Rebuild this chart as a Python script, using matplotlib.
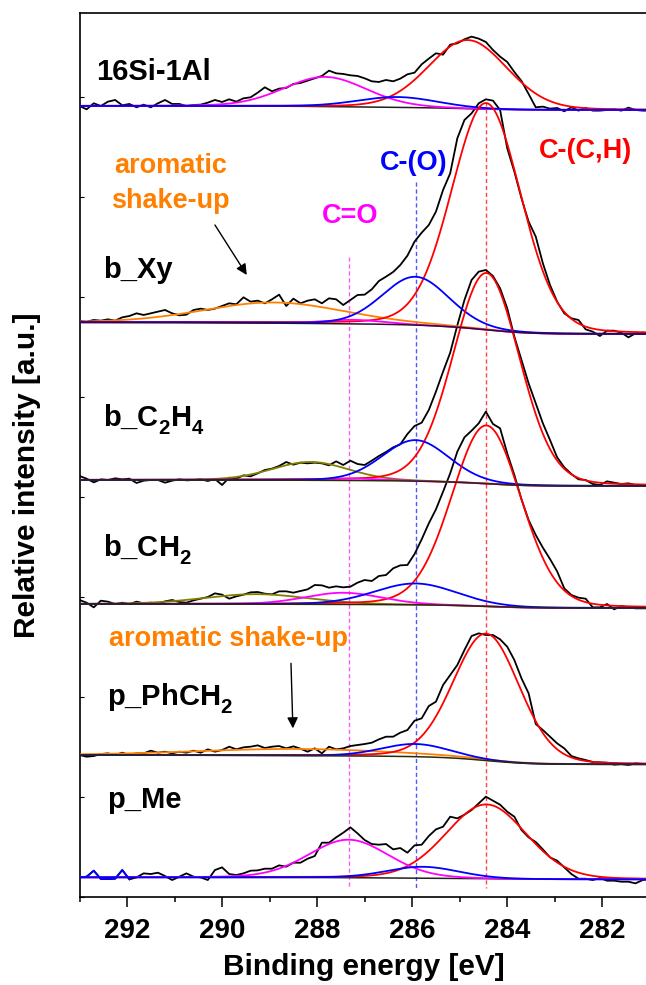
import numpy as np
import matplotlib
matplotlib.use("Agg")
import matplotlib.pyplot as plt
from matplotlib.ticker import MultipleLocator

plt.rcParams['font.family'] = ['Liberation Sans', 'DejaVu Sans']
plt.rcParams['font.weight'] = 'bold'
plt.rcParams['mathtext.fontset'] = 'custom'
plt.rcParams['mathtext.rm'] = 'Liberation Sans:bold'
plt.rcParams['mathtext.bf'] = 'Liberation Sans:bold'
plt.rcParams['mathtext.it'] = 'Liberation Sans:bold'
plt.rcParams['mathtext.default'] = 'bf'

# deeper subscripts for the chemical formulas
try:
    import matplotlib._mathtext as _mt
    _mt.FontConstantsBase.sub1 = 0.55
    _mt.FontConstantsBase.subdrop = 0.55
except Exception:
    pass

# ---------------------------------------------------------------- data
# C 1s scans: 81 channels, 293.0 eV down to 281.0 eV in 0.15 eV steps
E_START, E_STEP, N_CH = 293.0, 0.15, 81

samples = ["16Si-1Al", "b_Xy", "b_C$_2$H$_4$", "b_CH$_2$", "p_PhCH$_2$", "p_Me"]
# vertical stacking offset of each trace (a.u.) and background level at low BE
offsets = [2372, 1723, 1250, 878, 425, 58]
bg_right = [-12, -35, -18, -12, -28, -6]

counts_16si1al = [0, -10, 8, 0, 13, 18, 2, 6, -4, 4, -4, 8, 18, 6, 6, 0, 3, 4, 10, 18,
                  12, 20, 13, 23, 26, 40, 56, 44, 52, 54, 66, 69, 76, 83, 90, 106, 98, 96, 92, 90,
                  83, 74, 72, 78, 74, 82, 95, 100, 125, 142, 158, 154, 184, 188, 200, 208, 202, 192, 168, 148,
                  132, 102, 75, 36, -4, -2, -8, -6, -16, -4, -14, -6, -14, -14, -12, -10, -14, -5, -12, -14,
                  -14]
counts_bxy = [4, 2, 7, 5, 9, 5, 15, 19, 27, 22, 27, 32, 37, 27, 21, 23, 37, 41, 37, 41,
              49, 57, 54, 75, 62, 65, 57, 69, 83, 49, 71, 57, 65, 69, 57, 72, 69, 52, 67, 82,
              83, 99, 124, 137, 151, 172, 200, 242, 269, 292, 332, 397, 447, 552, 607, 627, 657, 669, 665, 637,
              522, 452, 372, 302, 257, 177, 112, 62, 27, 12, 7, -21, -28, -41, -25, -25, -31, -45, -33, -31,
              -33]
counts_bc2h4 = [12, 4, -7, 2, 0, 5, 2, 4, -9, -2, 0, 0, -8, -2, 2, -1, 0, 2, -3, 3,
                -15, 7, 4, 14, 11, 20, 30, 34, 42, 54, 46, 52, 50, 52, 50, 44, 56, 45, 58, 48,
                45, 58, 72, 84, 98, 107, 138, 162, 172, 210, 265, 325, 382, 464, 540, 600, 625, 630, 612, 575,
                515, 430, 360, 290, 230, 170, 120, 68, 38, 18, 2, 0, -12, -15, -4, -8, -12, -10, -15, -18,
                -18]
counts_bch2 = [12, 4, -10, 10, 7, 0, 4, 0, 7, 2, 4, 0, 8, 12, 6, 4, 11, 16, 21, 32,
               28, 16, 23, 28, 35, 36, 31, 29, 38, 38, 34, 39, 44, 57, 56, 49, 53, 50, 52, 64,
               72, 69, 84, 87, 107, 116, 117, 150, 194, 242, 284, 337, 392, 457, 500, 520, 542, 577, 540, 527,
               452, 387, 314, 252, 207, 169, 135, 98, 47, 27, 19, 16, -10, -10, 0, -16, -6, -10, -13, -13,
               -13]
counts_pphch2 = [0, -5, -3, 3, 5, 0, 7, 0, 5, 5, 13, 7, 10, 5, 10, 7, 13, 7, 17, 10,
                 15, 25, 17, 23, 25, 29, 21, 25, 27, 20, 26, 19, 10, 20, 5, 25, 17, 20, 27, 30,
                 33, 37, 47, 55, 55, 67, 75, 103, 110, 147, 160, 210, 240, 270, 315, 357, 365, 360, 360, 347,
                 325, 285, 230, 185, 93, 75, 55, 35, 20, -3, -10, -15, -21, -22, -23, -29, -27, -30, -25, -27,
                 -27]
counts_pme = [0, 2, 20, -5, -5, -4, 22, -6, 0, 12, 10, 14, 4, -8, 2, 12, 2, 0, -8, 22,
              30, 10, 7, 12, 20, 21, 26, 26, 36, 32, 44, 44, 56, 64, 104, 104, 120, 134, 150, 132,
              112, 100, 98, 100, 84, 88, 74, 96, 98, 124, 144, 152, 182, 177, 188, 202, 222, 242, 230, 218,
              197, 182, 142, 120, 106, 84, 60, 50, 30, 10, -4, -4, -8, -2, -10, -10, -13, -13, -18, -8,
              -6]
counts = [counts_16si1al, counts_bxy, counts_bc2h4, counts_bch2, counts_pphch2, counts_pme]

# fitted components: (centre eV, height a.u., FWHM eV)
peaks_16si1al = {"CC": (284.83, 206, 1.95), "CO": (286.31, 31, 2.00), "C=O": (287.83, 89, 2.05)}
peaks_bxy = {"CC": (284.44, 680, 1.72), "CO": (285.93, 145, 1.65), "C=O": (287.25, 12, 1.50),
             "shake": (288.90, 62, 3.50)}
peaks_bc2h4 = {"CC": (284.44, 632, 1.65), "CO": (285.93, 123, 1.65), "C=O": (287.30, 6, 1.50),
               "shake": (288.14, 55, 1.90)}
peaks_bch2 = {"CC": (284.44, 543, 1.72), "CO": (285.93, 64, 2.05), "C=O": (287.45, 35, 1.90),
              "shake": (289.28, 30, 2.60)}
peaks_pphch2 = {"CC": (284.44, 381, 1.64), "CO": (285.93, 38, 1.70), "shake": (288.40, 20, 5.00)}
peaks_pme = {"CC": (284.44, 223, 2.00), "CO": (285.78, 34, 1.80), "C=O": (287.34, 114, 1.98)}
peaks = [peaks_16si1al, peaks_bxy, peaks_bc2h4, peaks_bch2, peaks_pphch2, peaks_pme]

# reference binding energies marked with dashed lines
ref_lines = {"C=O": 287.33, "CO": 285.93, "CC": 284.44}

# ---------------------------------------------------------------- styles
RED, BLUE, MAGENTA, ORANGE, OLIVE = "#ff0000", "#0000ff", "#ff00ff", "#ff8000", "#808000"
shake_color = [None, ORANGE, OLIVE, OLIVE, ORANGE, None]
comp_color = {"CC": RED, "CO": BLUE, "C=O": MAGENTA}
bg_color = ["#202020", "#2a1030", "#2a2a08", "#2a2a08", "#2a2a08", "#202020"]
bg_on_top = [False, True, True, True, True, False]
LW = 1.3


def pseudo_voigt(x, c, h, fwhm, eta=0.12):
    s = fwhm / (2 * np.sqrt(2 * np.log(2)))
    g = np.exp(-(x - c) ** 2 / (2 * s ** 2))
    lor = 1.0 / (1.0 + ((x - c) / (fwhm / 2)) ** 2)
    return h * ((1 - eta) * g + eta * lor)


def shirley(x, total, left, right):
    # x runs from high to low binding energy
    area = np.concatenate([[0.0], np.cumsum(0.5 * (total[1:] + total[:-1]) * np.abs(np.diff(x)))])
    frac = (area[-1] - area) / area[-1]
    return right + (left - right) * frac


energy = E_START - E_STEP * np.arange(N_CH)
fine = np.linspace(293.3, 280.9, 700)

fig = plt.figure(figsize=(6.46, 9.85), dpi=100)
ax = fig.add_axes([79.5 / 646, 88.3 / 985, 1 - 79.5 / 646, (896.7 - 13.3) / 985])

for i, name in enumerate(samples):
    off = offsets[i]
    y = off + np.asarray(counts[i], float)
    ax.plot(energy, y, color="black", lw=LW, zorder=2)
    if i == 5:
        sel = energy >= 291.9
        ax.plot(energy[sel], y[sel], color=BLUE, lw=LW, zorder=4)

    comps = {k: pseudo_voigt(fine, *v) for k, v in peaks[i].items()}
    total = sum(comps.values())
    bg = shirley(fine, total, 0.0, bg_right[i])
    ax.plot(fine, off + bg, color=bg_color[i], lw=1.1, zorder=3.5 if bg_on_top[i] else 2.5)
    for k in ["shake", "CC", "C=O", "CO"]:
        if k not in comps:
            continue
        col = shake_color[i] if k == "shake" else comp_color[k]
        ax.plot(fine, off + bg + comps[k], color=col, lw=LW, zorder=3)

# dashed guide lines at the component binding energies
ax.plot([ref_lines["C=O"]] * 2, [1920, 25], color="#ff55ff", lw=1.0, ls=(0, (3, 2)), zorder=1)
ax.plot([ref_lines["CO"]] * 2, [2145, 25], color="#5555ff", lw=1.0, ls=(0, (3, 2)), zorder=1)
ax.plot([ref_lines["CC"]] * 2, [2384, 25], color="#ff4444", lw=1.0, ls=(0, (3, 2)), zorder=1)

# sample names
name_pos = [(292.66, 2450), (292.50, 1856), (292.50, 1412), (292.50, 1022), (292.43, 575), (292.41, 266)]
for name, (xe, yy) in zip(samples, name_pos):
    ax.text(xe, yy, name, fontsize=21, fontweight="bold", ha="left", va="baseline", color="black")

# component labels
ax.text(282.36, 2216, "C-(C,H)", color=RED, fontsize=19.5, fontweight="bold", ha="center", va="baseline")
ax.text(285.96, 2180, "C-(O)", color=BLUE, fontsize=19.5, fontweight="bold", ha="center", va="baseline")
ax.text(287.31, 2021, "C=O", color=MAGENTA, fontsize=19.5, fontweight="bold", ha="center", va="baseline")
ax.text(291.08, 2170, "aromatic", color=ORANGE, fontsize=19.5, fontweight="bold", ha="center", va="baseline")
ax.text(291.08, 2065, "shake-up", color=ORANGE, fontsize=19.5, fontweight="bold", ha="center", va="baseline")
ax.text(289.86, 752, "aromatic shake-up", color=ORANGE, fontsize=19.5, fontweight="bold",
        ha="center", va="baseline")

arrow = dict(arrowstyle="-|>", color="black", lw=1.0, mutation_scale=16, shrinkA=0, shrinkB=0)
ax.annotate("", xy=(289.48, 1865), xytext=(290.15, 2015), arrowprops=arrow)
ax.annotate("", xy=(288.51, 505), xytext=(288.55, 700), arrowprops=arrow)

# axes
ax.set_xlim(293.0, 281.08)
ax.set_ylim(0, 2650)
ax.xaxis.set_major_locator(MultipleLocator(2))
ax.xaxis.set_minor_locator(MultipleLocator(1))
ax.yaxis.set_major_locator(MultipleLocator(300))
ax.tick_params(axis="x", which="major", direction="out", length=7, width=1.1, labelsize=20, pad=8)
ax.tick_params(axis="x", which="minor", direction="out", length=3.5, width=1.1)
ax.tick_params(axis="y", which="major", direction="in", length=3, width=0.8, labelleft=False)
for sp in ("left", "top", "bottom"):
    ax.spines[sp].set_linewidth(1.2)
ax.spines["right"].set_visible(False)
for lab in ax.get_xticklabels():
    lab.set_fontweight("bold")

fig.text(364 / 646, 10 / 985, "Binding energy [eV]", fontsize=21.5, fontweight="bold",
         ha="center", va="baseline")
fig.text(27 / 646, 1 - 475 / 985, "Relative intensity [a.u.]", fontsize=21.5, fontweight="bold",
         ha="center", va="center", rotation=90)

fig.savefig("out.png", dpi=100)
